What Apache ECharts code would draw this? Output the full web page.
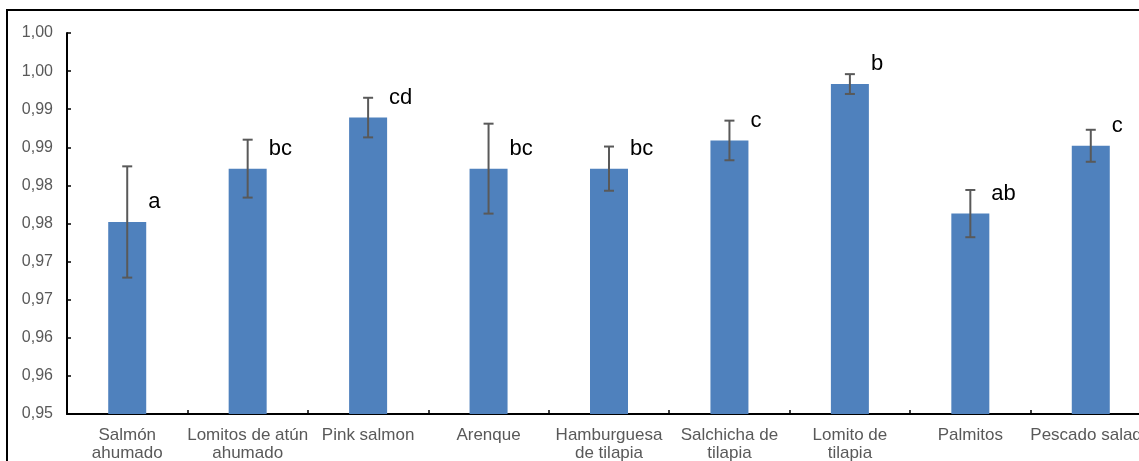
<!DOCTYPE html>
<html>
<head>
<meta charset="utf-8">
<script src="https://cdn.jsdelivr.net/npm/echarts@6/dist/echarts.min.js"></script>
<style>
  html, body { margin: 0; padding: 0; background: #ffffff; }
  #chart { width: 1139px; height: 461px; }
</style>
</head>
<body>
<div id="chart"></div>
<script>
// Product categories (axis labels, two lines where wrapped)
const categories = [
  'Salmón\nahumado',
  'Lomitos de atún\nahumado',
  'Pink salmon',
  'Arenque',
  'Hamburguesa\nde tilapia',
  'Salchicha de\ntilapia',
  'Lomito de\ntilapia',
  'Palmitos',
  'Pescado salado'
];

// Mean values per product
const means = [0.9752, 0.9822, 0.9889, 0.9822, 0.9822, 0.9859, 0.9933, 0.9763, 0.9852];

// Standard deviation (error bar half-length)
const deviations = [0.0073, 0.0038, 0.0026, 0.0059, 0.0029, 0.0026, 0.0013, 0.0031, 0.0021];

// Significance letters shown beside each bar
const groupLetters = ['a', 'bc', 'cd', 'bc', 'bc', 'c', 'b', 'ab', 'c'];

// Y axis tick labels, from 0.950 to 1.000 every 0.005
const yTickLabels = ['0,95', '0,96', '0,96', '0,97', '0,97', '0,98', '0,98', '0,99', '0,99', '1,00', '1,00'];
const yMin = 0.95;
const yMax = 1.0;
const yStep = 0.005;

const errorData = means.map((m, i) => [i, m - deviations[i], m + deviations[i]]);

const chart = echarts.init(document.getElementById('chart'), null, { renderer: 'canvas' });

chart.setOption({
  animation: false,
  backgroundColor: '#ffffff',
  textStyle: { fontFamily: '"Liberation Sans", Arial, sans-serif' },
  graphic: [{
    type: 'rect',
    shape: { x: 7, y: 10, width: 1300, height: 600 },
    style: { fill: 'none', stroke: '#000000', lineWidth: 2 },
    silent: true,
    z: 10
  }],
  grid: {
    left: 67, top: 33, width: 1084, height: 381,
    containLabel: false,
    outerBoundsMode: 'none'
  },
  xAxis: {
    type: 'category',
    data: categories,
    axisLine: { lineStyle: { color: '#000000', width: 2 } },
    axisTick: { show: true, inside: true, length: 4, lineStyle: { color: '#000000', width: 1.5 } },
    axisLabel: {
      interval: 0,
      hideOverlap: false,
      color: '#595959',
      fontSize: 17,
      lineHeight: 18,
      margin: 12,
      fontFamily: '"Liberation Sans", Arial, sans-serif'
    },
    splitLine: { show: false }
  },
  yAxis: {
    type: 'value',
    min: yMin,
    max: yMax,
    interval: yStep,
    axisLine: { show: true, lineStyle: { color: '#000000', width: 2 } },
    axisTick: { show: true, inside: true, length: 4, lineStyle: { color: '#000000', width: 1.5 } },
    axisLabel: {
      color: '#595959',
      fontSize: 16,
      margin: 14,
      fontFamily: '"Liberation Sans", Arial, sans-serif',
      formatter: function (v) {
        return yTickLabels[Math.round((v - yMin) / yStep)];
      }
    },
    splitLine: { show: false }
  },
  series: [
    {
      type: 'bar',
      data: means,
      barWidth: 38,
      itemStyle: { color: '#4F81BD' },
      label: {
        show: true,
        position: 'top',
        distance: 9,
        align: 'left',
        offset: [21, 0],
        color: '#000000',
        fontSize: 22,
        fontFamily: '"Liberation Sans", Arial, sans-serif',
        formatter: function (p) { return groupLetters[p.dataIndex]; }
      },
      z: 2
    },
    {
      type: 'custom',
      data: errorData,
      z: 3,
      renderItem: function (params, api) {
        const idx = api.value(0);
        const low = api.coord([idx, api.value(1)]);
        const high = api.coord([idx, api.value(2)]);
        const cap = 5;
        const style = { stroke: '#595959', lineWidth: 2 };
        return {
          type: 'group',
          children: [
            { type: 'line', shape: { x1: high[0], y1: high[1], x2: low[0], y2: low[1] }, style: style },
            { type: 'line', shape: { x1: high[0] - cap, y1: high[1], x2: high[0] + cap, y2: high[1] }, style: style },
            { type: 'line', shape: { x1: low[0] - cap, y1: low[1], x2: low[0] + cap, y2: low[1] }, style: style }
          ]
        };
      }
    }
  ]
});
</script>
</body>
</html>
